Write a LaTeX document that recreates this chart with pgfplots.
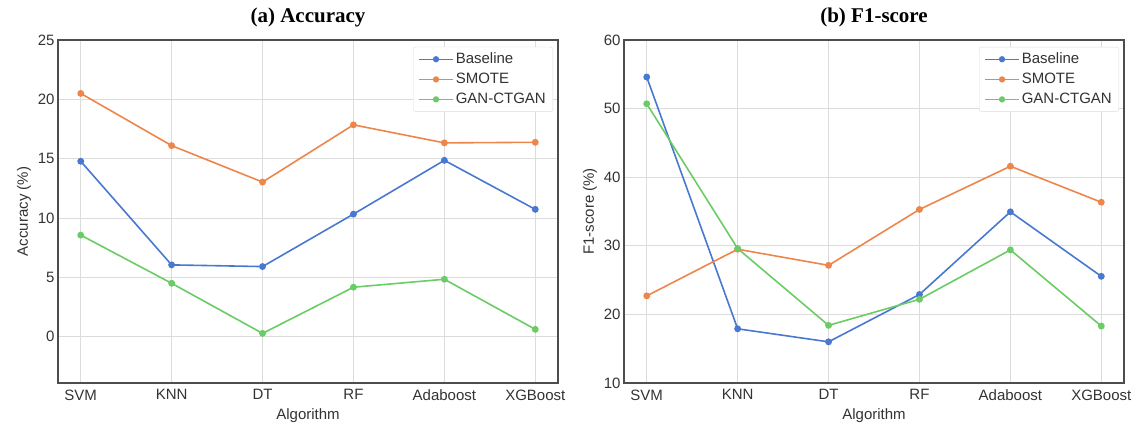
\documentclass[border=0pt]{standalone}
\usepackage{fontspec}
\setmainfont{Liberation Sans}
\newfontfamily\seriffont{Liberation Serif}
\usepackage{pgfplots}
\pgfplotsset{compat=1.18}

\definecolor{cBase}{HTML}{4878D0}
\definecolor{cSmote}{HTML}{EE854A}
\definecolor{cGan}{HTML}{6ACC64}
\definecolor{framec}{HTML}{4D4D4D}
\definecolor{gridc}{HTML}{DCDCDC}

\pgfplotsset{
  panel/.style={
    scale only axis, width=500pt, height=343pt,
    xmin=-0.25, xmax=5.25,
    xtick={0,...,5},
    xticklabels={SVM,KNN,DT,RF,Adaboost,XGBoost},
    grid=major,
    major grid style={gridc, line width=0.8pt},
    axis line style={framec, line width=1.3pt},
    tick style={draw=none},
    ticklabel style={font=\fontsize{15}{17}\selectfont, text=black!80},
    xticklabel style={yshift=-3pt},
    label style={font=\fontsize{15}{17}\selectfont, text=black!80},
    xlabel={Algorithm},
    xlabel style={yshift=-1pt},
    /pgf/number format/assume math mode=true,
    title style={font=\seriffont\bfseries\fontsize{21}{23}\selectfont, yshift=3pt},
    legend style={at={(0.99,0.98)}, anchor=north east, draw=gridc,
      rounded corners=2pt, font=\fontsize{15}{17}\selectfont,
      row sep=4pt, inner xsep=5pt, inner ysep=4pt, text=black!80},
    legend cell align=left,
    legend image code/.code={
      \draw[line width=1.4pt, mark size=2.4pt, mark repeat=2, mark phase=2]
        plot coordinates {(0cm,0cm) (0.6cm,0cm) (1.2cm,0cm)};},
    every axis plot/.append style={line width=1.6pt, mark=*, mark size=2.6pt},
  },
}

\begin{document}
\begin{tikzpicture}
  \begin{axis}[
    panel,
    at={(58pt,44pt)}, anchor=south west,
    title={(a) Accuracy},
    ylabel={Accuracy (\%)},
    ymin=-3.9, ymax=25,
    ytick={0,5,10,15,20,25},
  ]
  \addplot[cBase] coordinates {(0,14.78) (1,6.05) (2,5.91) (3,10.33) (4,14.86) (5,10.73)};
  \addlegendentry{Baseline}
  \addplot[cSmote] coordinates {(0,20.5) (1,16.1) (2,13.03) (3,17.85) (4,16.33) (5,16.38)};
  \addlegendentry{SMOTE}
  \addplot[cGan] coordinates {(0,8.56) (1,4.5) (2,0.28) (3,4.17) (4,4.84) (5,0.62)};
  \addlegendentry{GAN-CTGAN}
  \end{axis}

  \begin{axis}[
    panel,
    at={(624pt,44pt)}, anchor=south west,
    title={(b) F1-score},
    ylabel={F1-score (\%)},
    ymin=10, ymax=60,
    ytick={10,20,30,40,50,60},
  ]
  \addplot[cBase] coordinates {(0,54.6) (1,17.9) (2,16.0) (3,22.9) (4,34.95) (5,25.55)};
  \addlegendentry{Baseline}
  \addplot[cSmote] coordinates {(0,22.7) (1,29.5) (2,27.15) (3,35.3) (4,41.6) (5,36.35)};
  \addlegendentry{SMOTE}
  \addplot[cGan] coordinates {(0,50.7) (1,29.6) (2,18.4) (3,22.2) (4,29.4) (5,18.3)};
  \addlegendentry{GAN-CTGAN}
  \end{axis}

  \pgfresetboundingbox
  \path[use as bounding box] (0,0) rectangle (1132pt,427pt);
\end{tikzpicture}
\end{document}
